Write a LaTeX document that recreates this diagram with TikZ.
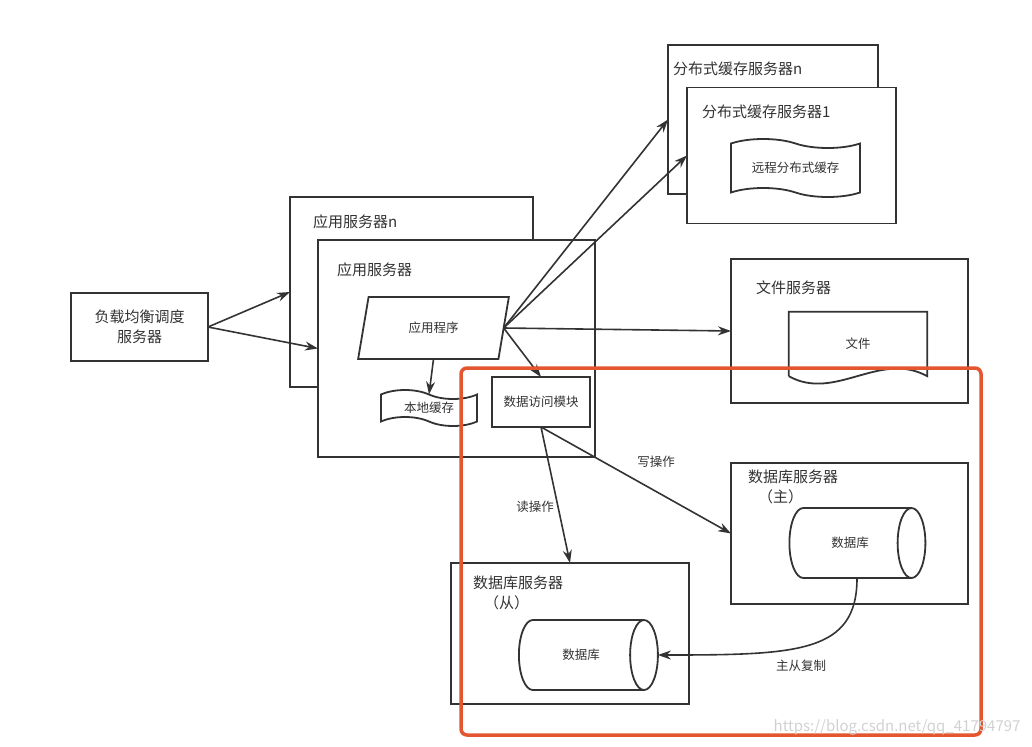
\documentclass[tikz,border=0pt]{standalone}
\usepackage{fontspec}
\newfontfamily\cjk{Noto Sans CJK SC}
\usetikzlibrary{arrows.meta,shapes.geometric,shapes.symbols}
\definecolor{linegray}{HTML}{333333}
\definecolor{markred}{HTML}{E4562F}
\begin{document}
\begin{tikzpicture}[x=1pt, y=-1pt, font=\cjk\fontsize{12.5}{15}\selectfont, text=linegray,
        box/.style={draw=linegray, fill=white, line width=1.8pt, inner sep=0pt, outer sep=0pt},
        title/.style={anchor=west, inner sep=0pt, font=\cjk\fontsize{15}{20}\selectfont},
        link/.style={draw=linegray, line width=1.6pt, -{Stealth[length=13pt, width=9pt]}},
        cache/.style={box, tape, tape bend top=out and in, tape bend bottom=out and in, tape bend height=9pt},
        store/.style={box, cylinder, shape aspect=2.4}]
        \useasboundingbox (0,0) rectangle (1032,746);
        \node[box, minimum width=137, minimum height=68, align=center, font=\cjk\fontsize{15}{20}\selectfont] (lb) at (139.5, 327) {负载均衡调度\\服务器};
        \node[box, minimum width=243, minimum height=190] (appn) at (411.5, 292) {};
        \node[title] (appnlbl) at (313, 222) {应用服务器n};
        \node[box, minimum width=277, minimum height=217] (app) at (456.5, 348.5) {};
        \node[title] (applbl) at (337, 270) {应用服务器};
        \node[box, trapezium, trapezium stretches=true, trapezium left angle=71, trapezium right angle=109, minimum width=151, minimum height=62] (prog) at (433.5, 328) {应用程序};
        \node[cache, minimum width=96, minimum height=36] (lcache) at (429, 408) {本地缓存};
        \node[box, minimum width=98, minimum height=50] (dam) at (541, 402) {数据访问模块};
        \node[box, minimum width=210, minimum height=149] (cachen) at (773, 119.5) {};
        \node[title] (cachenlbl) at (673, 69) {分布式缓存服务器n};
        \node[box, minimum width=209, minimum height=136] (cache1) at (791.5, 155.5) {};
        \node[title] (cache1lbl) at (702, 112) {分布式缓存服务器1};
        \node[cache, minimum width=129, minimum height=58] (rcache) at (795.5, 168) {远程分布式缓存};
        \node[box, minimum width=237, minimum height=144] (fs) at (849.5, 331) {};
        \node[title] (fslbl) at (756, 288) {文件服务器};
        \node[minimum width=138, minimum height=64, inner sep=0pt] (doc) at (858, 344) {文件};
        \draw[draw=linegray, line width=1.8pt] (doc.south west) -- (doc.north west) -- (doc.north east) -- (doc.south east) .. controls (880, 350) and (835, 402) .. (doc.south west);
        \node[box, minimum width=237, minimum height=141] (master) at (849.5, 533.5) {};
        \node[title] (masterlbl) at (748, 477) {数据库服务器};
        \node[title] (masterrole) at (758, 497) {（主）};
        \node[store, minimum width=70, minimum height=136] (mdb) at (850, 543) {数据库};
        \node[box, minimum width=238, minimum height=141] (slave) at (570, 633.5) {};
        \node[title] (slavelbl) at (473, 583) {数据库服务器};
        \node[title] (slaverole) at (484, 603) {（从）};
        \node[store, minimum width=70, minimum height=139] (sdb) at (581, 655) {数据库};
        \draw[link] (lb.east) -- (appn.west);
        \draw[link] (lb.east) -- (app.west);
        \draw[link] (prog.east) -- (cachen.west);
        \draw[link] (prog.east) -- (cache1.west);
        \draw[link] (prog.east) -- (fs.west);
        \draw[link] (prog.east) -- (dam.north);
        \draw[link] (prog.south) -- (lcache.north);
        \draw[link] (dam.south) -- (slave.north);
        \draw[link] (dam.south) -- (master.west);
        \draw[link] ([xshift=7pt]mdb.south) .. controls +(0, 75) and +(140, 0) .. (sdb.east);
        \node (readlbl) at (535, 507) {读操作};
        \node (writelbl) at (656, 462) {写操作};
        \node (copylbl) at (801, 666) {主从复制};
        \node[draw=markred, line width=3.5pt, rounded corners=6pt, minimum width=520, minimum height=367] (focus) at (721, 551.5) {};
        \node[anchor=east, text=black!18, font=\cjk\fontsize{15}{18}\selectfont] (mark) at (1024, 727) {https://blog.csdn.net/qq\_41794797};
\end{tikzpicture}
\end{document}
